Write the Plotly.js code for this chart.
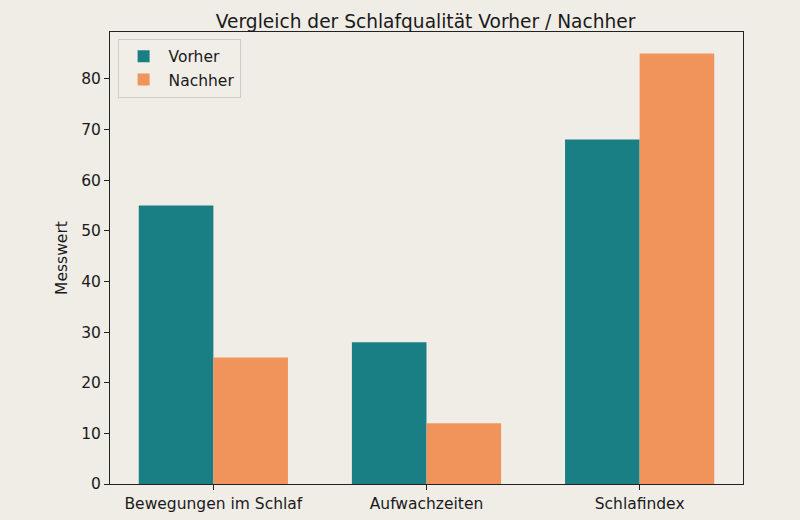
<!DOCTYPE html>
<html><head><meta charset="utf-8">
<script src="https://cdn.plot.ly/plotly-3.0.1.min.js"></script>
<style>html,body{margin:0;padding:0;background:#f0ede7;}</style>
</head><body>
<div id="chart" style="width:800px;height:520px;"></div>
<script>
const categories = ["Bewegungen im Schlaf", "Aufwachzeiten", "Schlafindex"];
const vorher = [55, 28, 68];
const nachher = [25, 12, 85];
const xpos = [0, 1, 2];

const font = {family: "DejaVu Sans, sans-serif", color: "#1a1a1a", size: 15.5};
const traces = [
  {type: "bar", name: "Vorher", x: xpos, y: vorher, marker: {color: "#1a7f84"}},
  {type: "bar", name: "Nachher", x: xpos, y: nachher, marker: {color: "#f0945c"}}
];
const layout = {
  width: 800, height: 520,
  paper_bgcolor: "#f0ede7", plot_bgcolor: "#f0ede7",
  font: font,
  margin: {l: 110, r: 57, t: 32, b: 36},
  barmode: "group", bargap: 0.3, bargroupgap: 0,
  title: {text: "Vergleich der Schlafqualität Vorher / Nachher", x: 0.532, xref: "container", xanchor: "center", y: 0.972, yref: "container", font: {size: 18.6, family: "DejaVu Sans, sans-serif", color: "#1a1a1a"}},
  xaxis: {range: [-0.485, 2.485], tickvals: xpos, ticktext: categories, ticks: "outside", ticklen: 5, tickcolor: "#222",
          showline: true, mirror: true, linecolor: "#222", linewidth: 1, showgrid: false, zeroline: false, tickfont: {size: 15.5}},
  yaxis: {range: [0, 89.25], dtick: 10, ticks: "outside", ticklen: 5, tickcolor: "#222",
          showline: true, mirror: true, linecolor: "#222", linewidth: 1, showgrid: false, zeroline: false, tickfont: {size: 15.5},
          title: {text: "Messwert", font: {size: 15.5}, standoff: 9}},
  legend: {x: 0.012, y: 0.985, xanchor: "left", yanchor: "top", bgcolor: "rgba(240,237,231,0.8)", bordercolor: "#cccccc", borderwidth: 1, font: {size: 15.5}, itemwidth: 40, tracegroupgap: 0},
  showlegend: true
};
Plotly.newPlot("chart", traces, layout, {displayModeBar: false, staticPlot: true});
</script>
</body></html>
